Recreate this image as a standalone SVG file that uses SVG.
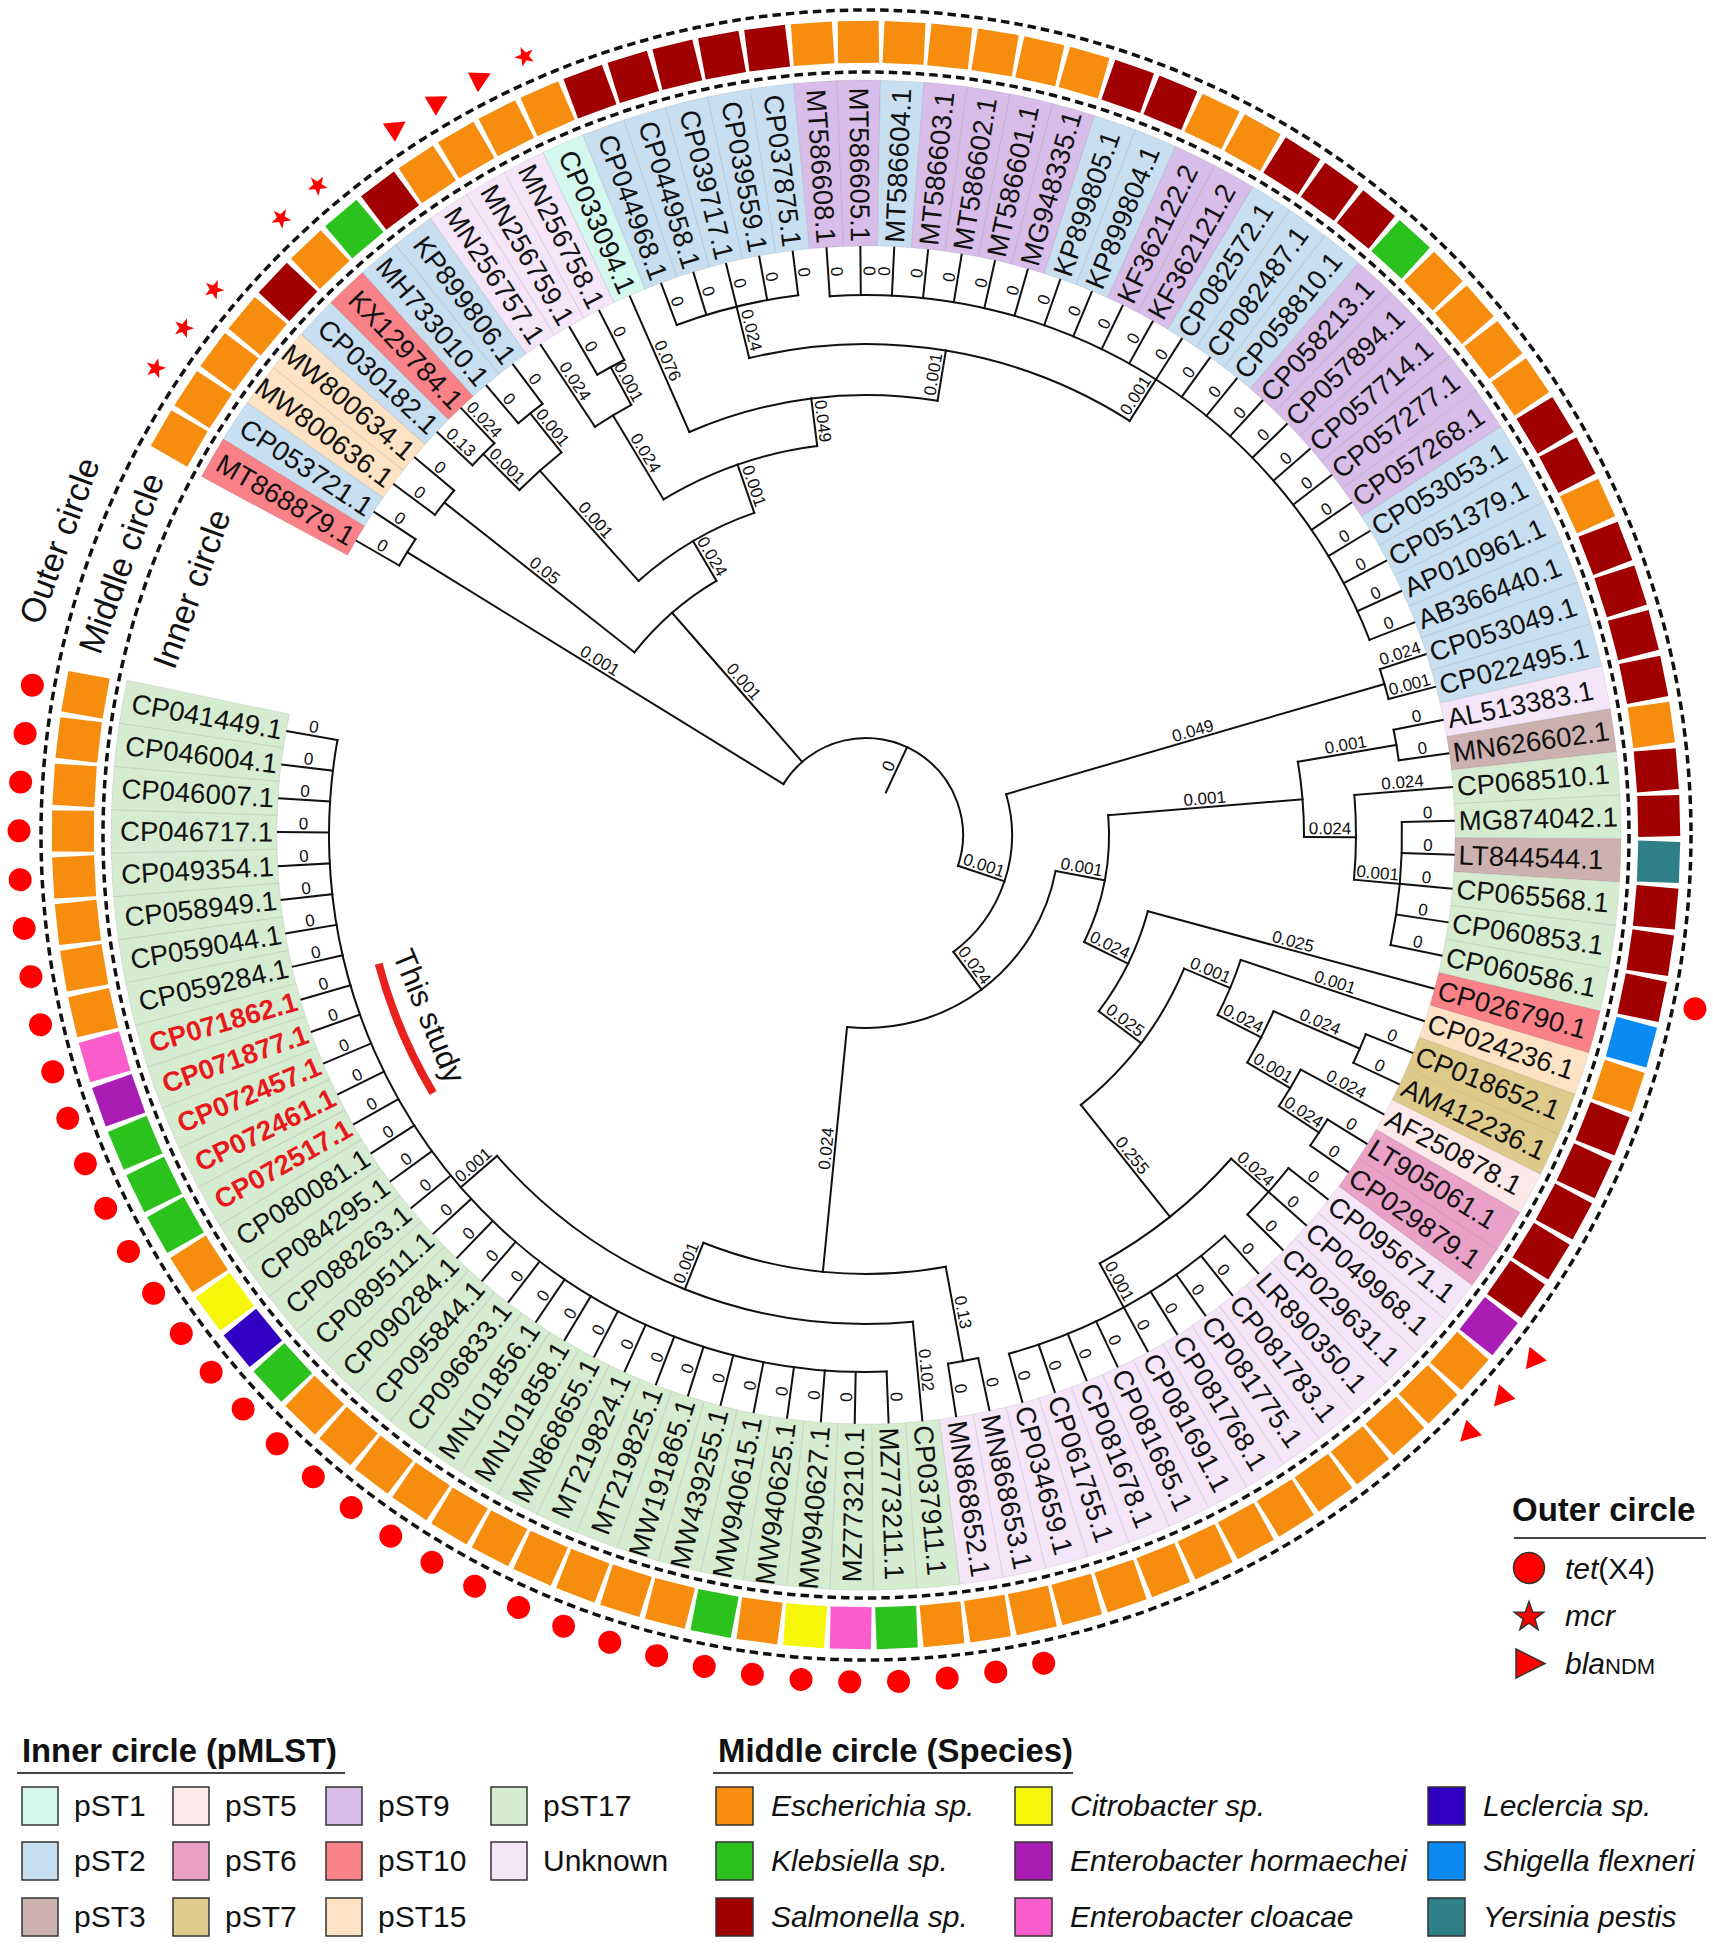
<svg xmlns="http://www.w3.org/2000/svg" width="1713" height="1945" viewBox="0 0 1713 1945">
<style>
text{font-family:"Liberation Sans",Arial,sans-serif;fill:#111}
.lb{font-size:27.5px;dominant-baseline:central}
.lf{text-anchor:end}
.rd{fill:#e8191c;font-weight:bold}
.bl{font-size:17px;text-anchor:middle}
.gl{font-size:34px;text-anchor:middle;dominant-baseline:central}
.lg{font-size:30px}
.it{font-style:italic}
.ti{font-size:33px;font-weight:bold}
#connectors line,#connectors circle{fill:none;stroke:#111;stroke-width:2;stroke-linecap:square}
.sw{stroke:#333;stroke-width:1.5}
.p1{fill:#d4f7ee}.p2{fill:#c7dff1}.p3{fill:#cdb0b0}.p5{fill:#fde9ea}.p6{fill:#e9a1c8}.p7{fill:#decb8b}
.p9{fill:#d8bde8}.p10{fill:#f98188}.p15{fill:#fde3c3}.p17{fill:#d6ecd0}.pu{fill:#f4e6f8}
.esc{fill:#f68d0f}.kle{fill:#2cc21d}.sal{fill:#a00000}.cit{fill:#f6f60a}.ehor{fill:#aa1db4}
.eclo{fill:#fb5ccb}.lec{fill:#3100c2}.shi{fill:#0b8bf1}.yer{fill:#2f7f86}
.mk{fill:#f00}
</style>
<defs>
<path id="bd" d="M588.76 -16.97 L754.69 -21.76 A755 755 0 0 1 754.69 21.76 L588.76 16.97 A589 589 0 0 0 588.76 -16.97Z" stroke="#000" stroke-opacity="0.08" stroke-width="1"/>
<rect id="sq" x="772" y="-20.5" width="42" height="41"/>
<circle id="dt" class="mk" cx="847" cy="0" r="11.5"/>
<polygon id="st" class="mk" points="860.5,0 853.4,2.47 853.25,9.99 848.7,3.99 841.5,6.17 845.8,0 841.5,-6.17 848.7,-3.99 853.25,-9.99 853.4,-2.47"/>
<polygon id="tr" class="mk" points="860,-9 849,11 838,-9"/>
</defs>
<rect width="1713" height="1945" fill="#fff"/>

<g id="rings" transform="translate(866 835)" fill="none" stroke="#111" stroke-width="3.5" stroke-dasharray="8.5 5">
<circle r="763"/>
<circle r="825"/>
</g>

<g id="leaves" transform="translate(866 835)">
<g id="l1" transform="rotate(210)"><use href="#bd" class="p10"/><use href="#sq" class="esc"/><text class="lb lf" x="-593" transform="rotate(180)">MT868879.1</text></g>
<g id="l2" transform="rotate(213.3)"><use href="#bd" class="p2"/><use href="#sq" class="esc"/><text class="lb lf" x="-593" transform="rotate(180)">CP053721.1</text><use href="#st"/></g>
<g id="l3" transform="rotate(216.61)"><use href="#bd" class="p15"/><use href="#sq" class="esc"/><text class="lb lf" x="-593" transform="rotate(180)">MW800636.1</text><use href="#st"/></g>
<g id="l4" transform="rotate(219.91)"><use href="#bd" class="p15"/><use href="#sq" class="esc"/><text class="lb lf" x="-593" transform="rotate(180)">MW800634.1</text><use href="#st"/></g>
<g id="l5" transform="rotate(223.21)"><use href="#bd" class="p2"/><use href="#sq" class="sal"/><text class="lb lf" x="-593" transform="rotate(180)">CP030182.1</text></g>
<g id="l6" transform="rotate(226.51)"><use href="#bd" class="p10"/><use href="#sq" class="esc"/><text class="lb lf" x="-593" transform="rotate(180)">KX129784.1</text><use href="#st"/></g>
<g id="l7" transform="rotate(229.82)"><use href="#bd" class="p2"/><use href="#sq" class="kle"/><text class="lb lf" x="-593" transform="rotate(180)">MH733010.1</text><use href="#st"/></g>
<g id="l8" transform="rotate(233.12)"><use href="#bd" class="p2"/><use href="#sq" class="sal"/><text class="lb lf" x="-593" transform="rotate(180)">KP899806.1</text></g>
<g id="l9" transform="rotate(236.42)"><use href="#bd" class="pu"/><use href="#sq" class="esc"/><text class="lb lf" x="-593" transform="rotate(180)">MN256757.1</text><use href="#tr"/></g>
<g id="l10" transform="rotate(239.73)"><use href="#bd" class="pu"/><use href="#sq" class="esc"/><text class="lb lf" x="-593" transform="rotate(180)">MN256759.1</text><use href="#tr"/></g>
<g id="l11" transform="rotate(243.03)"><use href="#bd" class="pu"/><use href="#sq" class="esc"/><text class="lb lf" x="-593" transform="rotate(180)">MN256758.1</text><use href="#tr"/></g>
<g id="l12" transform="rotate(246.33)"><use href="#bd" class="p1"/><use href="#sq" class="esc"/><text class="lb lf" x="-593" transform="rotate(180)">CP033094.1</text><use href="#st"/></g>
<g id="l13" transform="rotate(249.63)"><use href="#bd" class="p2"/><use href="#sq" class="sal"/><text class="lb lf" x="-593" transform="rotate(180)">CP044968.1</text></g>
<g id="l14" transform="rotate(252.94)"><use href="#bd" class="p2"/><use href="#sq" class="sal"/><text class="lb lf" x="-593" transform="rotate(180)">CP044958.1</text></g>
<g id="l15" transform="rotate(256.24)"><use href="#bd" class="p2"/><use href="#sq" class="sal"/><text class="lb lf" x="-593" transform="rotate(180)">CP039717.1</text></g>
<g id="l16" transform="rotate(259.54)"><use href="#bd" class="p2"/><use href="#sq" class="sal"/><text class="lb lf" x="-593" transform="rotate(180)">CP039559.1</text></g>
<g id="l17" transform="rotate(262.84)"><use href="#bd" class="p2"/><use href="#sq" class="sal"/><text class="lb lf" x="-593" transform="rotate(180)">CP037875.1</text></g>
<g id="l18" transform="rotate(266.15)"><use href="#bd" class="p9"/><use href="#sq" class="esc"/><text class="lb lf" x="-593" transform="rotate(180)">MT586608.1</text></g>
<g id="l19" transform="rotate(269.45)"><use href="#bd" class="p9"/><use href="#sq" class="esc"/><text class="lb lf" x="-593" transform="rotate(180)">MT586605.1</text></g>
<g id="l20" transform="rotate(272.75)"><use href="#bd" class="p2"/><use href="#sq" class="esc"/><text class="lb" x="593">MT586604.1</text></g>
<g id="l21" transform="rotate(276.06)"><use href="#bd" class="p9"/><use href="#sq" class="esc"/><text class="lb" x="593">MT586603.1</text></g>
<g id="l22" transform="rotate(279.36)"><use href="#bd" class="p9"/><use href="#sq" class="esc"/><text class="lb" x="593">MT586602.1</text></g>
<g id="l23" transform="rotate(282.66)"><use href="#bd" class="p9"/><use href="#sq" class="esc"/><text class="lb" x="593">MT586601.1</text></g>
<g id="l24" transform="rotate(285.96)"><use href="#bd" class="p9"/><use href="#sq" class="esc"/><text class="lb" x="593">MG948335.1</text></g>
<g id="l25" transform="rotate(289.27)"><use href="#bd" class="p2"/><use href="#sq" class="sal"/><text class="lb" x="593">KP899805.1</text></g>
<g id="l26" transform="rotate(292.57)"><use href="#bd" class="p2"/><use href="#sq" class="sal"/><text class="lb" x="593">KP899804.1</text></g>
<g id="l27" transform="rotate(295.87)"><use href="#bd" class="p9"/><use href="#sq" class="esc"/><text class="lb" x="593">KF362122.2</text></g>
<g id="l28" transform="rotate(299.17)"><use href="#bd" class="p9"/><use href="#sq" class="esc"/><text class="lb" x="593">KF362121.2</text></g>
<g id="l29" transform="rotate(302.48)"><use href="#bd" class="p2"/><use href="#sq" class="sal"/><text class="lb" x="593">CP082572.1</text></g>
<g id="l30" transform="rotate(305.78)"><use href="#bd" class="p2"/><use href="#sq" class="sal"/><text class="lb" x="593">CP082487.1</text></g>
<g id="l31" transform="rotate(309.08)"><use href="#bd" class="p2"/><use href="#sq" class="sal"/><text class="lb" x="593">CP058810.1</text></g>
<g id="l32" transform="rotate(312.39)"><use href="#bd" class="p9"/><use href="#sq" class="kle"/><text class="lb" x="593">CP058213.1</text></g>
<g id="l33" transform="rotate(315.69)"><use href="#bd" class="p9"/><use href="#sq" class="esc"/><text class="lb" x="593">CP057894.1</text></g>
<g id="l34" transform="rotate(318.99)"><use href="#bd" class="p9"/><use href="#sq" class="esc"/><text class="lb" x="593">CP057714.1</text></g>
<g id="l35" transform="rotate(322.29)"><use href="#bd" class="p9"/><use href="#sq" class="esc"/><text class="lb" x="593">CP057277.1</text></g>
<g id="l36" transform="rotate(325.6)"><use href="#bd" class="p9"/><use href="#sq" class="esc"/><text class="lb" x="593">CP057268.1</text></g>
<g id="l37" transform="rotate(328.9)"><use href="#bd" class="p2"/><use href="#sq" class="sal"/><text class="lb" x="593">CP053053.1</text></g>
<g id="l38" transform="rotate(332.2)"><use href="#bd" class="p2"/><use href="#sq" class="sal"/><text class="lb" x="593">CP051379.1</text></g>
<g id="l39" transform="rotate(335.5)"><use href="#bd" class="p2"/><use href="#sq" class="esc"/><text class="lb" x="593">AP010961.1</text></g>
<g id="l40" transform="rotate(338.81)"><use href="#bd" class="p2"/><use href="#sq" class="sal"/><text class="lb" x="593">AB366440.1</text></g>
<g id="l41" transform="rotate(342.11)"><use href="#bd" class="p2"/><use href="#sq" class="sal"/><text class="lb" x="593">CP053049.1</text></g>
<g id="l42" transform="rotate(345.41)"><use href="#bd" class="p2"/><use href="#sq" class="sal"/><text class="lb" x="593">CP022495.1</text></g>
<g id="l43" transform="rotate(348.72)"><use href="#bd" class="pu"/><use href="#sq" class="sal"/><text class="lb" x="593">AL513383.1</text></g>
<g id="l44" transform="rotate(352.02)"><use href="#bd" class="p3"/><use href="#sq" class="esc"/><text class="lb" x="593">MN626602.1</text></g>
<g id="l45" transform="rotate(355.32)"><use href="#bd" class="p17"/><use href="#sq" class="sal"/><text class="lb" x="593">CP068510.1</text></g>
<g id="l46" transform="rotate(358.62)"><use href="#bd" class="p17"/><use href="#sq" class="sal"/><text class="lb" x="593">MG874042.1</text></g>
<g id="l47" transform="rotate(1.93)"><use href="#bd" class="p3"/><use href="#sq" class="yer"/><text class="lb" x="593">LT844544.1</text></g>
<g id="l48" transform="rotate(5.23)"><use href="#bd" class="p17"/><use href="#sq" class="sal"/><text class="lb" x="593">CP065568.1</text></g>
<g id="l49" transform="rotate(8.53)"><use href="#bd" class="p17"/><use href="#sq" class="sal"/><text class="lb" x="593">CP060853.1</text></g>
<g id="l50" transform="rotate(11.84)"><use href="#bd" class="p17"/><use href="#sq" class="sal"/><text class="lb" x="593">CP060586.1</text><use href="#dt"/></g>
<g id="l51" transform="rotate(15.14)"><use href="#bd" class="p10"/><use href="#sq" class="shi"/><text class="lb" x="593">CP026790.1</text></g>
<g id="l52" transform="rotate(18.44)"><use href="#bd" class="p15"/><use href="#sq" class="esc"/><text class="lb" x="593">CP024236.1</text></g>
<g id="l53" transform="rotate(21.74)"><use href="#bd" class="p7"/><use href="#sq" class="sal"/><text class="lb" x="593">CP018652.1</text></g>
<g id="l54" transform="rotate(25.05)"><use href="#bd" class="p7"/><use href="#sq" class="sal"/><text class="lb" x="593">AM412236.1</text></g>
<g id="l55" transform="rotate(28.35)"><use href="#bd" class="p5"/><use href="#sq" class="sal"/><text class="lb" x="593">AF250878.1</text></g>
<g id="l56" transform="rotate(31.65)"><use href="#bd" class="p6"/><use href="#sq" class="sal"/><text class="lb" x="593">LT905061.1</text></g>
<g id="l57" transform="rotate(34.95)"><use href="#bd" class="p6"/><use href="#sq" class="sal"/><text class="lb" x="593">CP029879.1</text></g>
<g id="l58" transform="rotate(38.26)"><use href="#bd" class="pu"/><use href="#sq" class="ehor"/><text class="lb" x="593">CP095671.1</text><use href="#tr"/></g>
<g id="l59" transform="rotate(41.56)"><use href="#bd" class="pu"/><use href="#sq" class="esc"/><text class="lb" x="593">CP049968.1</text><use href="#tr"/></g>
<g id="l60" transform="rotate(44.86)"><use href="#bd" class="pu"/><use href="#sq" class="esc"/><text class="lb" x="593">CP029631.1</text><use href="#tr"/></g>
<g id="l61" transform="rotate(48.17)"><use href="#bd" class="pu"/><use href="#sq" class="esc"/><text class="lb" x="593">LR890350.1</text></g>
<g id="l62" transform="rotate(51.47)"><use href="#bd" class="pu"/><use href="#sq" class="esc"/><text class="lb" x="593">CP081783.1</text></g>
<g id="l63" transform="rotate(54.77)"><use href="#bd" class="pu"/><use href="#sq" class="esc"/><text class="lb" x="593">CP081775.1</text></g>
<g id="l64" transform="rotate(58.07)"><use href="#bd" class="pu"/><use href="#sq" class="esc"/><text class="lb" x="593">CP081768.1</text></g>
<g id="l65" transform="rotate(61.38)"><use href="#bd" class="pu"/><use href="#sq" class="esc"/><text class="lb" x="593">CP081691.1</text></g>
<g id="l66" transform="rotate(64.68)"><use href="#bd" class="pu"/><use href="#sq" class="esc"/><text class="lb" x="593">CP081685.1</text></g>
<g id="l67" transform="rotate(67.98)"><use href="#bd" class="pu"/><use href="#sq" class="esc"/><text class="lb" x="593">CP081678.1</text></g>
<g id="l68" transform="rotate(71.28)"><use href="#bd" class="pu"/><use href="#sq" class="esc"/><text class="lb" x="593">CP061755.1</text></g>
<g id="l69" transform="rotate(74.59)"><use href="#bd" class="pu"/><use href="#sq" class="esc"/><text class="lb" x="593">CP034659.1</text></g>
<g id="l70" transform="rotate(77.89)"><use href="#bd" class="pu"/><use href="#sq" class="esc"/><text class="lb" x="593">MN868653.1</text><use href="#dt"/></g>
<g id="l71" transform="rotate(81.19)"><use href="#bd" class="pu"/><use href="#sq" class="esc"/><text class="lb" x="593">MN868652.1</text><use href="#dt"/></g>
<g id="l72" transform="rotate(84.5)"><use href="#bd" class="p17"/><use href="#sq" class="esc"/><text class="lb" x="593">CP037911.1</text><use href="#dt"/></g>
<g id="l73" transform="rotate(87.8)"><use href="#bd" class="p17"/><use href="#sq" class="kle"/><text class="lb" x="593">MZ773211.1</text><use href="#dt"/></g>
<g id="l74" transform="rotate(91.1)"><use href="#bd" class="p17"/><use href="#sq" class="eclo"/><text class="lb lf" x="-593" transform="rotate(180)">MZ773210.1</text><use href="#dt"/></g>
<g id="l75" transform="rotate(94.4)"><use href="#bd" class="p17"/><use href="#sq" class="cit"/><text class="lb lf" x="-593" transform="rotate(180)">MW940627.1</text><use href="#dt"/></g>
<g id="l76" transform="rotate(97.71)"><use href="#bd" class="p17"/><use href="#sq" class="esc"/><text class="lb lf" x="-593" transform="rotate(180)">MW940625.1</text><use href="#dt"/></g>
<g id="l77" transform="rotate(101.01)"><use href="#bd" class="p17"/><use href="#sq" class="kle"/><text class="lb lf" x="-593" transform="rotate(180)">MW940615.1</text><use href="#dt"/></g>
<g id="l78" transform="rotate(104.31)"><use href="#bd" class="p17"/><use href="#sq" class="esc"/><text class="lb lf" x="-593" transform="rotate(180)">MW439255.1</text><use href="#dt"/></g>
<g id="l79" transform="rotate(107.61)"><use href="#bd" class="p17"/><use href="#sq" class="esc"/><text class="lb lf" x="-593" transform="rotate(180)">MW191865.1</text><use href="#dt"/></g>
<g id="l80" transform="rotate(110.92)"><use href="#bd" class="p17"/><use href="#sq" class="esc"/><text class="lb lf" x="-593" transform="rotate(180)">MT219825.1</text><use href="#dt"/></g>
<g id="l81" transform="rotate(114.22)"><use href="#bd" class="p17"/><use href="#sq" class="esc"/><text class="lb lf" x="-593" transform="rotate(180)">MT219824.1</text><use href="#dt"/></g>
<g id="l82" transform="rotate(117.52)"><use href="#bd" class="p17"/><use href="#sq" class="esc"/><text class="lb lf" x="-593" transform="rotate(180)">MN868655.1</text><use href="#dt"/></g>
<g id="l83" transform="rotate(120.83)"><use href="#bd" class="p17"/><use href="#sq" class="esc"/><text class="lb lf" x="-593" transform="rotate(180)">MN101858.1</text><use href="#dt"/></g>
<g id="l84" transform="rotate(124.13)"><use href="#bd" class="p17"/><use href="#sq" class="esc"/><text class="lb lf" x="-593" transform="rotate(180)">MN101856.1</text><use href="#dt"/></g>
<g id="l85" transform="rotate(127.43)"><use href="#bd" class="p17"/><use href="#sq" class="esc"/><text class="lb lf" x="-593" transform="rotate(180)">CP096833.1</text><use href="#dt"/></g>
<g id="l86" transform="rotate(130.73)"><use href="#bd" class="p17"/><use href="#sq" class="esc"/><text class="lb lf" x="-593" transform="rotate(180)">CP095844.1</text><use href="#dt"/></g>
<g id="l87" transform="rotate(134.04)"><use href="#bd" class="p17"/><use href="#sq" class="esc"/><text class="lb lf" x="-593" transform="rotate(180)">CP090284.1</text><use href="#dt"/></g>
<g id="l88" transform="rotate(137.34)"><use href="#bd" class="p17"/><use href="#sq" class="kle"/><text class="lb lf" x="-593" transform="rotate(180)">CP089511.1</text><use href="#dt"/></g>
<g id="l89" transform="rotate(140.64)"><use href="#bd" class="p17"/><use href="#sq" class="lec"/><text class="lb lf" x="-593" transform="rotate(180)">CP088263.1</text><use href="#dt"/></g>
<g id="l90" transform="rotate(143.94)"><use href="#bd" class="p17"/><use href="#sq" class="cit"/><text class="lb lf" x="-593" transform="rotate(180)">CP084295.1</text><use href="#dt"/></g>
<g id="l91" transform="rotate(147.25)"><use href="#bd" class="p17"/><use href="#sq" class="esc"/><text class="lb lf" x="-593" transform="rotate(180)">CP080081.1</text><use href="#dt"/></g>
<g id="l92" transform="rotate(150.55)"><use href="#bd" class="p17"/><use href="#sq" class="kle"/><text class="lb lf rd" x="-593" transform="rotate(180)">CP072517.1</text><use href="#dt"/></g>
<g id="l93" transform="rotate(153.85)"><use href="#bd" class="p17"/><use href="#sq" class="kle"/><text class="lb lf rd" x="-593" transform="rotate(180)">CP072461.1</text><use href="#dt"/></g>
<g id="l94" transform="rotate(157.16)"><use href="#bd" class="p17"/><use href="#sq" class="kle"/><text class="lb lf rd" x="-593" transform="rotate(180)">CP072457.1</text><use href="#dt"/></g>
<g id="l95" transform="rotate(160.46)"><use href="#bd" class="p17"/><use href="#sq" class="ehor"/><text class="lb lf rd" x="-593" transform="rotate(180)">CP071877.1</text><use href="#dt"/></g>
<g id="l96" transform="rotate(163.76)"><use href="#bd" class="p17"/><use href="#sq" class="eclo"/><text class="lb lf rd" x="-593" transform="rotate(180)">CP071862.1</text><use href="#dt"/></g>
<g id="l97" transform="rotate(167.06)"><use href="#bd" class="p17"/><use href="#sq" class="esc"/><text class="lb lf" x="-593" transform="rotate(180)">CP059284.1</text><use href="#dt"/></g>
<g id="l98" transform="rotate(170.37)"><use href="#bd" class="p17"/><use href="#sq" class="esc"/><text class="lb lf" x="-593" transform="rotate(180)">CP059044.1</text><use href="#dt"/></g>
<g id="l99" transform="rotate(173.67)"><use href="#bd" class="p17"/><use href="#sq" class="esc"/><text class="lb lf" x="-593" transform="rotate(180)">CP058949.1</text><use href="#dt"/></g>
<g id="l100" transform="rotate(176.97)"><use href="#bd" class="p17"/><use href="#sq" class="esc"/><text class="lb lf" x="-593" transform="rotate(180)">CP049354.1</text><use href="#dt"/></g>
<g id="l101" transform="rotate(180.28)"><use href="#bd" class="p17"/><use href="#sq" class="esc"/><text class="lb lf" x="-593" transform="rotate(180)">CP046717.1</text><use href="#dt"/></g>
<g id="l102" transform="rotate(183.58)"><use href="#bd" class="p17"/><use href="#sq" class="esc"/><text class="lb lf" x="-593" transform="rotate(180)">CP046007.1</text><use href="#dt"/></g>
<g id="l103" transform="rotate(186.88)"><use href="#bd" class="p17"/><use href="#sq" class="esc"/><text class="lb lf" x="-593" transform="rotate(180)">CP046004.1</text><use href="#dt"/></g>
<g id="l104" transform="rotate(190.18)"><use href="#bd" class="p17"/><use href="#sq" class="esc"/><text class="lb lf" x="-593" transform="rotate(180)">CP041449.1</text><use href="#dt"/></g>
</g>

<g id="connectors" transform="translate(866 835)">
<circle r="97" pathLength="360" stroke-dasharray="166.83 360" transform="rotate(211.65)"/>
<circle r="539" pathLength="360" stroke-dasharray="3.3 360" transform="rotate(210)"/>
<circle r="537" pathLength="360" stroke-dasharray="3.3 360" transform="rotate(216.61)"/>
<circle r="540" pathLength="360" stroke-dasharray="3.3 360" transform="rotate(223.21)"/>
<circle r="539" pathLength="360" stroke-dasharray="3.3 360" transform="rotate(229.82)"/>
<circle r="489" pathLength="360" stroke-dasharray="6.61 360" transform="rotate(224.86)"/>
<circle r="533" pathLength="360" stroke-dasharray="3.3 360" transform="rotate(239.73)"/>
<circle r="490" pathLength="360" stroke-dasharray="4.96 360" transform="rotate(236.42)"/>
<circle r="544" pathLength="360" stroke-dasharray="13.21 360" transform="rotate(249.63)"/>
<circle r="540" pathLength="360" stroke-dasharray="72.66 360" transform="rotate(266.15)"/>
<circle r="491" pathLength="360" stroke-dasharray="46.24 360" transform="rotate(256.24)"/>
<circle r="440" pathLength="360" stroke-dasharray="33.03 360" transform="rotate(246.33)"/>
<circle r="392" pathLength="360" stroke-dasharray="23.95 360" transform="rotate(238.9)"/>
<circle r="341" pathLength="360" stroke-dasharray="22.71 360" transform="rotate(228.16)"/>
<circle r="295" pathLength="360" stroke-dasharray="21.26 360" transform="rotate(218.26)"/>
<circle r="146" pathLength="360" stroke-dasharray="69.43 360" transform="rotate(343.76)"/>
<circle r="540" pathLength="360" stroke-dasharray="3.3 360" transform="rotate(342.11)"/>
<circle r="538" pathLength="360" stroke-dasharray="3.3 360" transform="rotate(348.72)"/>
<circle r="536" pathLength="360" stroke-dasharray="13.22 360" transform="rotate(358.62)"/>
<circle r="490" pathLength="360" stroke-dasharray="9.91 360" transform="rotate(355.32)"/>
<circle r="438" pathLength="360" stroke-dasharray="9.9 360" transform="rotate(350.37)"/>
<circle r="538" pathLength="360" stroke-dasharray="3.31 360" transform="rotate(21.74)"/>
<circle r="542" pathLength="360" stroke-dasharray="3.3 360" transform="rotate(31.65)"/>
<circle r="494" pathLength="360" stroke-dasharray="4.95 360" transform="rotate(28.35)"/>
<circle r="444" pathLength="360" stroke-dasharray="7.44 360" transform="rotate(23.39)"/>
<circle r="395" pathLength="360" stroke-dasharray="8.67 360" transform="rotate(18.44)"/>
<circle r="538" pathLength="360" stroke-dasharray="6.6 360" transform="rotate(38.26)"/>
<circle r="538" pathLength="360" stroke-dasharray="26.42 360" transform="rotate(48.17)"/>
<circle r="488" pathLength="360" stroke-dasharray="19.82 360" transform="rotate(41.56)"/>
<circle r="345" pathLength="360" stroke-dasharray="28.69 360" transform="rotate(22.78)"/>
<circle r="292" pathLength="360" stroke-dasharray="21.98 360" transform="rotate(15.14)"/>
<circle r="243" pathLength="360" stroke-dasharray="30.81 360" transform="rotate(355.32)"/>
<circle r="535" pathLength="360" stroke-dasharray="3.3 360" transform="rotate(77.89)"/>
<circle r="537" pathLength="360" stroke-dasharray="102.38 360" transform="rotate(87.8)"/>
<circle r="489" pathLength="360" stroke-dasharray="54.49 360" transform="rotate(84.5)"/>
<circle r="439" pathLength="360" stroke-dasharray="32.2 360" transform="rotate(79.54)"/>
<circle r="193" pathLength="360" stroke-dasharray="84.91 360" transform="rotate(10.73)"/>

<line x1="47" x2="97" transform="rotate(295.07)"/>
<line x1="97" x2="539" transform="rotate(211.65)"/>
<line x1="97" x2="295" transform="rotate(228.89)"/>
<line x1="97" x2="146" transform="rotate(18.48)"/>
<line x1="295" x2="537" transform="rotate(218.26)"/>
<line x1="295" x2="341" transform="rotate(239.52)"/>
<line x1="341" x2="489" transform="rotate(228.16)"/>
<line x1="341" x2="392" transform="rotate(250.87)"/>
<line x1="489" x2="540" transform="rotate(224.86)"/>
<line x1="489" x2="539" transform="rotate(231.47)"/>
<line x1="392" x2="490" transform="rotate(238.9)"/>
<line x1="392" x2="440" transform="rotate(262.85)"/>
<line x1="490" x2="533" transform="rotate(241.38)"/>
<line x1="440" x2="491" transform="rotate(279.36)"/>
<line x1="491" x2="544" transform="rotate(256.24)"/>
<line x1="491" x2="540" transform="rotate(302.48)"/>
<line x1="146" x2="540" transform="rotate(343.76)"/>
<line x1="146" x2="193" transform="rotate(53.19)"/>
<line x1="193" x2="243" transform="rotate(10.73)"/>
<line x1="193" x2="439" transform="rotate(95.64)"/>
<line x1="243" x2="438" transform="rotate(355.32)"/>
<line x1="243" x2="292" transform="rotate(26.13)"/>
<line x1="438" x2="538" transform="rotate(350.37)"/>
<line x1="438" x2="490" transform="rotate(0.27)"/>
<line x1="490" x2="536" transform="rotate(5.23)"/>
<line x1="292" x2="345" transform="rotate(37.12)"/>
<line x1="345" x2="395" transform="rotate(22.78)"/>
<line x1="345" x2="488" transform="rotate(51.47)"/>
<line x1="395" x2="444" transform="rotate(27.11)"/>
<line x1="444" x2="538" transform="rotate(23.39)"/>
<line x1="444" x2="494" transform="rotate(30.83)"/>
<line x1="494" x2="542" transform="rotate(33.3)"/>
<line x1="488" x2="538" transform="rotate(41.56)"/>
<line x1="488" x2="538" transform="rotate(61.38)"/>
<line x1="439" x2="535" transform="rotate(79.54)"/>
<line x1="439" x2="489" transform="rotate(111.74)"/>
<line x1="489" x2="537" transform="rotate(138.99)"/>

<line x1="539" x2="588" transform="rotate(210)"/>
<line x1="539" x2="588" transform="rotate(213.3)"/>
<line x1="537" x2="588" transform="rotate(216.61)"/>
<line x1="537" x2="588" transform="rotate(219.91)"/>
<line x1="540" x2="588" transform="rotate(223.21)"/>
<line x1="540" x2="588" transform="rotate(226.51)"/>
<line x1="539" x2="588" transform="rotate(229.82)"/>
<line x1="539" x2="588" transform="rotate(233.12)"/>
<line x1="490" x2="588" transform="rotate(236.42)"/>
<line x1="533" x2="588" transform="rotate(239.73)"/>
<line x1="533" x2="588" transform="rotate(243.03)"/>
<line x1="440" x2="588" transform="rotate(246.33)"/>
<line x1="544" x2="588" transform="rotate(249.63)"/>
<line x1="544" x2="588" transform="rotate(252.94)"/>
<line x1="544" x2="588" transform="rotate(256.24)"/>
<line x1="544" x2="588" transform="rotate(259.54)"/>
<line x1="544" x2="588" transform="rotate(262.84)"/>
<line x1="540" x2="588" transform="rotate(266.15)"/>
<line x1="540" x2="588" transform="rotate(269.45)"/>
<line x1="540" x2="588" transform="rotate(272.75)"/>
<line x1="540" x2="588" transform="rotate(276.06)"/>
<line x1="540" x2="588" transform="rotate(279.36)"/>
<line x1="540" x2="588" transform="rotate(282.66)"/>
<line x1="540" x2="588" transform="rotate(285.96)"/>
<line x1="540" x2="588" transform="rotate(289.27)"/>
<line x1="540" x2="588" transform="rotate(292.57)"/>
<line x1="540" x2="588" transform="rotate(295.87)"/>
<line x1="540" x2="588" transform="rotate(299.17)"/>
<line x1="540" x2="588" transform="rotate(302.48)"/>
<line x1="540" x2="588" transform="rotate(305.78)"/>
<line x1="540" x2="588" transform="rotate(309.08)"/>
<line x1="540" x2="588" transform="rotate(312.39)"/>
<line x1="540" x2="588" transform="rotate(315.69)"/>
<line x1="540" x2="588" transform="rotate(318.99)"/>
<line x1="540" x2="588" transform="rotate(322.29)"/>
<line x1="540" x2="588" transform="rotate(325.6)"/>
<line x1="540" x2="588" transform="rotate(328.9)"/>
<line x1="540" x2="588" transform="rotate(332.2)"/>
<line x1="540" x2="588" transform="rotate(335.5)"/>
<line x1="540" x2="588" transform="rotate(338.81)"/>
<line x1="540" x2="588" transform="rotate(342.11)"/>
<line x1="540" x2="588" transform="rotate(345.41)"/>
<line x1="538" x2="588" transform="rotate(348.72)"/>
<line x1="538" x2="588" transform="rotate(352.02)"/>
<line x1="490" x2="588" transform="rotate(355.32)"/>
<line x1="536" x2="588" transform="rotate(358.62)"/>
<line x1="536" x2="588" transform="rotate(1.93)"/>
<line x1="536" x2="588" transform="rotate(5.23)"/>
<line x1="536" x2="588" transform="rotate(8.53)"/>
<line x1="536" x2="588" transform="rotate(11.84)"/>
<line x1="292" x2="588" transform="rotate(15.14)"/>
<line x1="395" x2="588" transform="rotate(18.44)"/>
<line x1="538" x2="588" transform="rotate(21.74)"/>
<line x1="538" x2="588" transform="rotate(25.05)"/>
<line x1="494" x2="588" transform="rotate(28.35)"/>
<line x1="542" x2="588" transform="rotate(31.65)"/>
<line x1="542" x2="588" transform="rotate(34.95)"/>
<line x1="538" x2="588" transform="rotate(38.26)"/>
<line x1="538" x2="588" transform="rotate(41.56)"/>
<line x1="538" x2="588" transform="rotate(44.86)"/>
<line x1="538" x2="588" transform="rotate(48.17)"/>
<line x1="538" x2="588" transform="rotate(51.47)"/>
<line x1="538" x2="588" transform="rotate(54.77)"/>
<line x1="538" x2="588" transform="rotate(58.07)"/>
<line x1="538" x2="588" transform="rotate(61.38)"/>
<line x1="538" x2="588" transform="rotate(64.68)"/>
<line x1="538" x2="588" transform="rotate(67.98)"/>
<line x1="538" x2="588" transform="rotate(71.28)"/>
<line x1="538" x2="588" transform="rotate(74.59)"/>
<line x1="535" x2="588" transform="rotate(77.89)"/>
<line x1="535" x2="588" transform="rotate(81.19)"/>
<line x1="489" x2="588" transform="rotate(84.5)"/>
<line x1="537" x2="588" transform="rotate(87.8)"/>
<line x1="537" x2="588" transform="rotate(91.1)"/>
<line x1="537" x2="588" transform="rotate(94.4)"/>
<line x1="537" x2="588" transform="rotate(97.71)"/>
<line x1="537" x2="588" transform="rotate(101.01)"/>
<line x1="537" x2="588" transform="rotate(104.31)"/>
<line x1="537" x2="588" transform="rotate(107.61)"/>
<line x1="537" x2="588" transform="rotate(110.92)"/>
<line x1="537" x2="588" transform="rotate(114.22)"/>
<line x1="537" x2="588" transform="rotate(117.52)"/>
<line x1="537" x2="588" transform="rotate(120.83)"/>
<line x1="537" x2="588" transform="rotate(124.13)"/>
<line x1="537" x2="588" transform="rotate(127.43)"/>
<line x1="537" x2="588" transform="rotate(130.73)"/>
<line x1="537" x2="588" transform="rotate(134.04)"/>
<line x1="537" x2="588" transform="rotate(137.34)"/>
<line x1="537" x2="588" transform="rotate(140.64)"/>
<line x1="537" x2="588" transform="rotate(143.94)"/>
<line x1="537" x2="588" transform="rotate(147.25)"/>
<line x1="537" x2="588" transform="rotate(150.55)"/>
<line x1="537" x2="588" transform="rotate(153.85)"/>
<line x1="537" x2="588" transform="rotate(157.16)"/>
<line x1="537" x2="588" transform="rotate(160.46)"/>
<line x1="537" x2="588" transform="rotate(163.76)"/>
<line x1="537" x2="588" transform="rotate(167.06)"/>
<line x1="537" x2="588" transform="rotate(170.37)"/>
<line x1="537" x2="588" transform="rotate(173.67)"/>
<line x1="537" x2="588" transform="rotate(176.97)"/>
<line x1="537" x2="588" transform="rotate(180.28)"/>
<line x1="537" x2="588" transform="rotate(183.58)"/>
<line x1="537" x2="588" transform="rotate(186.88)"/>
<line x1="537" x2="588" transform="rotate(190.18)"/>

<text class="bl" transform="rotate(295.07)" x="72" y="-3">0</text>
<text class="bl" transform="rotate(391.65)" x="-318" y="-3">0.001</text>
<text class="bl" transform="rotate(408.89)" x="-196" y="-3">0.001</text>
<text class="bl" transform="rotate(18.48)" x="121.5" y="-3">0.001</text>
<text class="bl" transform="rotate(398.26)" x="-416" y="-3">0.05</text>
<text class="bl" transform="rotate(419.52)" x="-318" y="-3">0.024</text>
<text class="bl" transform="rotate(408.16)" x="-415" y="-3">0.001</text>
<text class="bl" transform="rotate(430.87)" x="-366.5" y="-3">0.001</text>
<text class="bl" transform="rotate(404.86)" x="-514.5" y="-3">0.001</text>
<text class="bl" transform="rotate(411.47)" x="-514" y="-3">0.001</text>
<text class="bl" transform="rotate(418.9)" x="-441" y="-3">0.024</text>
<text class="bl" transform="rotate(442.85)" x="-416" y="-3">0.049</text>
<text class="bl" transform="rotate(421.38)" x="-511.5" y="-3">0.001</text>
<text class="bl" transform="rotate(279.36)" x="465.5" y="-3">0.001</text>
<text class="bl" transform="rotate(436.24)" x="-517.5" y="-3">0.024</text>
<text class="bl" transform="rotate(302.48)" x="515.5" y="-3">0.001</text>
<text class="bl" transform="rotate(343.76)" x="343" y="-3">0.049</text>
<text class="bl" transform="rotate(53.19)" x="169.5" y="-3">0.024</text>
<text class="bl" transform="rotate(10.73)" x="218" y="-3">0.001</text>
<text class="bl" transform="rotate(275.64)" x="-316" y="-3">0.024</text>
<text class="bl" transform="rotate(355.32)" x="340.5" y="-3">0.001</text>
<text class="bl" transform="rotate(26.13)" x="267.5" y="-3">0.024</text>
<text class="bl" transform="rotate(350.37)" x="488" y="-3">0.001</text>
<text class="bl" transform="rotate(0.27)" x="464" y="-3">0.024</text>
<text class="bl" transform="rotate(5.23)" x="513" y="-3">0.001</text>
<text class="bl" transform="rotate(37.12)" x="318.5" y="-3">0.025</text>
<text class="bl" transform="rotate(22.78)" x="370" y="-3">0.001</text>
<text class="bl" transform="rotate(51.47)" x="416.5" y="-3">0.255</text>
<text class="bl" transform="rotate(27.11)" x="419.5" y="-3">0.024</text>
<text class="bl" transform="rotate(23.39)" x="491" y="-3">0.024</text>
<text class="bl" transform="rotate(30.83)" x="469" y="-3">0.001</text>
<text class="bl" transform="rotate(33.3)" x="518" y="-3">0.024</text>
<text class="bl" transform="rotate(41.56)" x="513" y="-3">0.024</text>
<text class="bl" transform="rotate(61.38)" x="513" y="-3">0.001</text>
<text class="bl" transform="rotate(79.54)" x="487" y="-3">0.13</text>
<text class="bl" transform="rotate(291.74)" x="-464" y="-3">0.001</text>
<text class="bl" transform="rotate(318.99)" x="-513" y="-3">0.001</text>

<text class="bl" transform="rotate(390)" x="-563.5" y="-3">0</text>
<text class="bl" transform="rotate(393.3)" x="-563.5" y="-3">0</text>
<text class="bl" transform="rotate(396.61)" x="-562.5" y="-3">0</text>
<text class="bl" transform="rotate(399.91)" x="-562.5" y="-3">0</text>
<text class="bl" transform="rotate(403.21)" x="-564" y="-3">0.13</text>
<text class="bl" transform="rotate(406.51)" x="-564" y="-3">0.024</text>
<text class="bl" transform="rotate(409.82)" x="-563.5" y="-3">0</text>
<text class="bl" transform="rotate(413.12)" x="-563.5" y="-3">0</text>
<text class="bl" transform="rotate(416.42)" x="-539" y="-3">0.024</text>
<text class="bl" transform="rotate(419.73)" x="-560.5" y="-3">0</text>
<text class="bl" transform="rotate(423.03)" x="-560.5" y="-3">0</text>
<text class="bl" transform="rotate(426.33)" x="-514" y="-3">0.076</text>
<text class="bl" transform="rotate(429.63)" x="-566" y="-3">0</text>
<text class="bl" transform="rotate(432.94)" x="-566" y="-3">0</text>
<text class="bl" transform="rotate(436.24)" x="-566" y="-3">0</text>
<text class="bl" transform="rotate(439.54)" x="-566" y="-3">0</text>
<text class="bl" transform="rotate(442.84)" x="-566" y="-3">0</text>
<text class="bl" transform="rotate(446.15)" x="-564" y="-3">0</text>
<text class="bl" transform="rotate(449.45)" x="-564" y="-3">0</text>
<text class="bl" transform="rotate(272.75)" x="564" y="-3">0</text>
<text class="bl" transform="rotate(276.06)" x="564" y="-3">0</text>
<text class="bl" transform="rotate(279.36)" x="564" y="-3">0</text>
<text class="bl" transform="rotate(282.66)" x="564" y="-3">0</text>
<text class="bl" transform="rotate(285.96)" x="564" y="-3">0</text>
<text class="bl" transform="rotate(289.27)" x="564" y="-3">0</text>
<text class="bl" transform="rotate(292.57)" x="564" y="-3">0</text>
<text class="bl" transform="rotate(295.87)" x="564" y="-3">0</text>
<text class="bl" transform="rotate(299.17)" x="564" y="-3">0</text>
<text class="bl" transform="rotate(302.48)" x="564" y="-3">0</text>
<text class="bl" transform="rotate(305.78)" x="564" y="-3">0</text>
<text class="bl" transform="rotate(309.08)" x="564" y="-3">0</text>
<text class="bl" transform="rotate(312.39)" x="564" y="-3">0</text>
<text class="bl" transform="rotate(315.69)" x="564" y="-3">0</text>
<text class="bl" transform="rotate(318.99)" x="564" y="-3">0</text>
<text class="bl" transform="rotate(322.29)" x="564" y="-3">0</text>
<text class="bl" transform="rotate(325.6)" x="564" y="-3">0</text>
<text class="bl" transform="rotate(328.9)" x="564" y="-3">0</text>
<text class="bl" transform="rotate(332.2)" x="564" y="-3">0</text>
<text class="bl" transform="rotate(335.5)" x="564" y="-3">0</text>
<text class="bl" transform="rotate(338.81)" x="564" y="-3">0</text>
<text class="bl" transform="rotate(342.11)" x="564" y="-3">0.024</text>
<text class="bl" transform="rotate(345.41)" x="564" y="-3">0.001</text>
<text class="bl" transform="rotate(348.72)" x="563" y="-3">0</text>
<text class="bl" transform="rotate(352.02)" x="563" y="-3">0</text>
<text class="bl" transform="rotate(355.32)" x="539" y="-3">0.024</text>
<text class="bl" transform="rotate(358.62)" x="562" y="-3">0</text>
<text class="bl" transform="rotate(1.93)" x="562" y="-3">0</text>
<text class="bl" transform="rotate(5.23)" x="562" y="-3">0</text>
<text class="bl" transform="rotate(8.53)" x="562" y="-3">0</text>
<text class="bl" transform="rotate(11.84)" x="562" y="-3">0</text>
<text class="bl" transform="rotate(15.14)" x="440" y="-3">0.025</text>
<text class="bl" transform="rotate(18.44)" x="491.5" y="-3">0.001</text>
<text class="bl" transform="rotate(21.74)" x="563" y="-3">0</text>
<text class="bl" transform="rotate(25.05)" x="563" y="-3">0</text>
<text class="bl" transform="rotate(28.35)" x="541" y="-3">0.024</text>
<text class="bl" transform="rotate(31.65)" x="565" y="-3">0</text>
<text class="bl" transform="rotate(34.95)" x="565" y="-3">0</text>
<text class="bl" transform="rotate(38.26)" x="563" y="-3">0</text>
<text class="bl" transform="rotate(41.56)" x="563" y="-3">0</text>
<text class="bl" transform="rotate(44.86)" x="563" y="-3">0</text>
<text class="bl" transform="rotate(48.17)" x="563" y="-3">0</text>
<text class="bl" transform="rotate(51.47)" x="563" y="-3">0</text>
<text class="bl" transform="rotate(54.77)" x="563" y="-3">0</text>
<text class="bl" transform="rotate(58.07)" x="563" y="-3">0</text>
<text class="bl" transform="rotate(61.38)" x="563" y="-3">0</text>
<text class="bl" transform="rotate(64.68)" x="563" y="-3">0</text>
<text class="bl" transform="rotate(67.98)" x="563" y="-3">0</text>
<text class="bl" transform="rotate(71.28)" x="563" y="-3">0</text>
<text class="bl" transform="rotate(74.59)" x="563" y="-3">0</text>
<text class="bl" transform="rotate(77.89)" x="561.5" y="-3">0</text>
<text class="bl" transform="rotate(81.19)" x="561.5" y="-3">0</text>
<text class="bl" transform="rotate(84.5)" x="538.5" y="-3">0.102</text>
<text class="bl" transform="rotate(87.8)" x="562.5" y="-3">0</text>
<text class="bl" transform="rotate(271.1)" x="-562.5" y="-3">0</text>
<text class="bl" transform="rotate(274.4)" x="-562.5" y="-3">0</text>
<text class="bl" transform="rotate(277.71)" x="-562.5" y="-3">0</text>
<text class="bl" transform="rotate(281.01)" x="-562.5" y="-3">0</text>
<text class="bl" transform="rotate(284.31)" x="-562.5" y="-3">0</text>
<text class="bl" transform="rotate(287.61)" x="-562.5" y="-3">0</text>
<text class="bl" transform="rotate(290.92)" x="-562.5" y="-3">0</text>
<text class="bl" transform="rotate(294.22)" x="-562.5" y="-3">0</text>
<text class="bl" transform="rotate(297.52)" x="-562.5" y="-3">0</text>
<text class="bl" transform="rotate(300.83)" x="-562.5" y="-3">0</text>
<text class="bl" transform="rotate(304.13)" x="-562.5" y="-3">0</text>
<text class="bl" transform="rotate(307.43)" x="-562.5" y="-3">0</text>
<text class="bl" transform="rotate(310.73)" x="-562.5" y="-3">0</text>
<text class="bl" transform="rotate(314.04)" x="-562.5" y="-3">0</text>
<text class="bl" transform="rotate(317.34)" x="-562.5" y="-3">0</text>
<text class="bl" transform="rotate(320.64)" x="-562.5" y="-3">0</text>
<text class="bl" transform="rotate(323.94)" x="-562.5" y="-3">0</text>
<text class="bl" transform="rotate(327.25)" x="-562.5" y="-3">0</text>
<text class="bl" transform="rotate(330.55)" x="-562.5" y="-3">0</text>
<text class="bl" transform="rotate(333.85)" x="-562.5" y="-3">0</text>
<text class="bl" transform="rotate(337.16)" x="-562.5" y="-3">0</text>
<text class="bl" transform="rotate(340.46)" x="-562.5" y="-3">0</text>
<text class="bl" transform="rotate(343.76)" x="-562.5" y="-3">0</text>
<text class="bl" transform="rotate(347.06)" x="-562.5" y="-3">0</text>
<text class="bl" transform="rotate(350.37)" x="-562.5" y="-3">0</text>
<text class="bl" transform="rotate(353.67)" x="-562.5" y="-3">0</text>
<text class="bl" transform="rotate(356.97)" x="-562.5" y="-3">0</text>
<text class="bl" transform="rotate(360.28)" x="-562.5" y="-3">0</text>
<text class="bl" transform="rotate(363.58)" x="-562.5" y="-3">0</text>
<text class="bl" transform="rotate(366.88)" x="-562.5" y="-3">0</text>
<text class="bl" transform="rotate(370.18)" x="-562.5" y="-3">0</text>
</g>

<g id="ring-labels" transform="translate(866 835)">
<text class="gl" transform="rotate(200.05) translate(859 0) rotate(90)">Outer circle</text>
<text class="gl" transform="rotate(200.05) translate(793 0) rotate(90)">Middle circle</text>
<text class="gl" transform="rotate(200.05) translate(718 0) rotate(90)">Inner circle</text>
</g>

<g id="this-study">
<path d="M378.7 963.7 A504 504 0 0 0 433.1 1093" fill="none" stroke="#e8201e" stroke-width="8"/>
<text transform="translate(866 835) rotate(157.5) translate(473 0) rotate(-90)" text-anchor="middle" dominant-baseline="central" font-size="31">This study</text>
</g>

<g id="legend-outer">
<text class="ti" x="1512" y="1521" font-size="32.5">Outer circle</text>
<line x1="1514" y1="1538" x2="1706" y2="1538" stroke="#444" stroke-width="2"/>
<circle cx="1529" cy="1568" r="15.5" fill="#f00" class="sw"/>
<text class="lg" x="1565" y="1579"><tspan class="it">tet</tspan>(X4)</text>
<polygon transform="translate(1529 1617)" fill="#f00" class="sw" points="0,-15.5 3.644,-5.016 14.741,-4.79 5.897,1.916 9.111,12.54 0,6.2 -9.111,12.54 -5.897,1.916 -14.741,-4.79 -3.644,-5.016"/>
<text class="lg it" x="1565" y="1626">mcr</text>
<polygon points="1516,1649 1545,1663.5 1516,1678" fill="#f00" class="sw"/>
<text class="lg" x="1565" y="1674"><tspan class="it">bla</tspan><tspan font-size="22">NDM</tspan></text>
</g>

<g id="legend-inner">
<text class="ti" x="22" y="1762" textLength="315" lengthAdjust="spacingAndGlyphs">Inner circle (pMLST)</text>
<line x1="17" y1="1773" x2="345" y2="1773" stroke="#444" stroke-width="2"/>
<rect class="p1 sw" x="22" y="1787" width="36" height="38"/><text class="lg" x="74" y="1816">pST1</text>
<rect class="p2 sw" x="22" y="1842" width="36" height="38"/><text class="lg" x="74" y="1871">pST2</text>
<rect class="p3 sw" x="22" y="1898" width="36" height="38"/><text class="lg" x="74" y="1927">pST3</text>
<rect class="p5 sw" x="173" y="1787" width="36" height="38"/><text class="lg" x="225" y="1816">pST5</text>
<rect class="p6 sw" x="173" y="1842" width="36" height="38"/><text class="lg" x="225" y="1871">pST6</text>
<rect class="p7 sw" x="173" y="1898" width="36" height="38"/><text class="lg" x="225" y="1927">pST7</text>
<rect class="p9 sw" x="326" y="1787" width="36" height="38"/><text class="lg" x="378" y="1816">pST9</text>
<rect class="p10 sw" x="326" y="1842" width="36" height="38"/><text class="lg" x="378" y="1871">pST10</text>
<rect class="p15 sw" x="326" y="1898" width="36" height="38"/><text class="lg" x="378" y="1927">pST15</text>
<rect class="p17 sw" x="491" y="1787" width="36" height="38"/><text class="lg" x="543" y="1816">pST17</text>
<rect class="pu sw" x="491" y="1842" width="36" height="38"/><text class="lg" x="543" y="1871">Unknown</text>
</g>

<g id="legend-middle">
<text class="ti" x="718" y="1762" textLength="355" lengthAdjust="spacingAndGlyphs">Middle circle (Species)</text>
<line x1="713" y1="1773" x2="1073" y2="1773" stroke="#444" stroke-width="2"/>
<rect class="esc sw" x="716" y="1787" width="37" height="38"/><text class="lg it" x="771" y="1816">Escherichia sp.</text>
<rect class="kle sw" x="716" y="1842" width="37" height="38"/><text class="lg it" x="771" y="1871">Klebsiella sp.</text>
<rect class="sal sw" x="716" y="1898" width="37" height="38"/><text class="lg it" x="771" y="1927">Salmonella sp.</text>
<rect class="cit sw" x="1015" y="1787" width="37" height="38"/><text class="lg it" x="1070" y="1816">Citrobacter sp.</text>
<rect class="ehor sw" x="1015" y="1842" width="37" height="38"/><text class="lg it" x="1070" y="1871">Enterobacter hormaechei</text>
<rect class="eclo sw" x="1015" y="1898" width="37" height="38"/><text class="lg it" x="1070" y="1927">Enterobacter cloacae</text>
<rect class="lec sw" x="1428" y="1787" width="37" height="38"/><text class="lg it" x="1483" y="1816">Leclercia sp.</text>
<rect class="shi sw" x="1428" y="1842" width="37" height="38"/><text class="lg it" x="1483" y="1871">Shigella flexneri</text>
<rect class="yer sw" x="1428" y="1898" width="37" height="38"/><text class="lg it" x="1483" y="1927">Yersinia pestis</text>
</g>
</svg>
